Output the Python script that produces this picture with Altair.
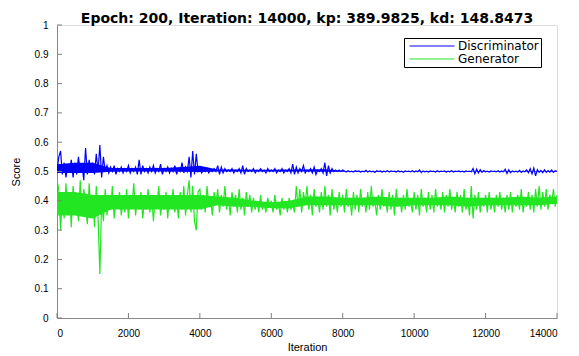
import altair as alt
import pandas as pd

# Discriminator score, sampled every 50 iterations (0 .. 14000)
disc = [
    0.50, 0.55, 0.57, 0.49, 0.53, 0.48, 0.52, 0.50, 0.54, 0.48, 0.53, 0.49, 0.55, 0.50, 0.52, 0.47, 0.58, 0.49, 0.54, 0.50, 0.53, 0.49, 0.56, 0.50, 0.59, 0.48, 0.55,
    0.50, 0.52, 0.495, 0.515, 0.50, 0.52, 0.49, 0.51, 0.50, 0.515, 0.495, 0.51, 0.50, 0.52, 0.495, 0.51, 0.50, 0.515, 0.49,
    0.54, 0.49, 0.52,
    0.50, 0.51, 0.495, 0.515, 0.50, 0.52, 0.495, 0.51, 0.50, 0.525, 0.49, 0.51, 0.50, 0.515, 0.495, 0.51, 0.50, 0.52, 0.49, 0.51, 0.50, 0.53, 0.495, 0.515, 0.50,
    0.55, 0.48, 0.57, 0.49, 0.56, 0.50,
    0.51, 0.495, 0.505, 0.50, 0.51, 0.495, 0.505, 0.50, 0.51, 0.50,
    0.52, 0.49, 0.515, 0.495, 0.51, 0.50, 0.505, 0.50, 0.51, 0.495,
    0.505, 0.50, 0.51, 0.495, 0.52, 0.49, 0.51, 0.50, 0.505, 0.50,
    0.51, 0.495, 0.505, 0.50, 0.51, 0.50, 0.505, 0.495, 0.51, 0.50,
    0.505, 0.50, 0.51, 0.495, 0.505, 0.50, 0.51, 0.495, 0.505, 0.50,
    0.51, 0.495, 0.525, 0.49, 0.515, 0.495, 0.51, 0.50, 0.52, 0.495,
    0.505, 0.50, 0.51, 0.495, 0.515, 0.49, 0.505, 0.50, 0.51, 0.495,
    0.53, 0.485, 0.52, 0.495, 0.51, 0.50, 0.505, 0.50, 0.505, 0.50, 0.505,
    0.502, 0.498, 0.503, 0.499, 0.501, 0.498, 0.503, 0.500, 0.502, 0.498,
    0.501, 0.499, 0.504, 0.498, 0.502, 0.499, 0.501, 0.497, 0.503, 0.500,
    0.502, 0.498, 0.501, 0.499, 0.503, 0.498, 0.502, 0.500, 0.501, 0.498,
    0.503, 0.499, 0.501, 0.497, 0.502, 0.500, 0.501, 0.499, 0.503, 0.498,
    0.502, 0.499, 0.505, 0.496, 0.502, 0.499, 0.501, 0.498, 0.502, 0.500,
    0.501, 0.498, 0.503, 0.499, 0.501, 0.500, 0.502, 0.498, 0.501, 0.499,
    0.503, 0.498, 0.501, 0.500, 0.502, 0.499, 0.501, 0.498, 0.502, 0.500,
    0.501, 0.499, 0.510, 0.492, 0.508, 0.495, 0.506, 0.497, 0.503, 0.499,
    0.501, 0.498, 0.502, 0.500, 0.501, 0.499, 0.503, 0.498, 0.502, 0.499,
    0.508, 0.493, 0.506, 0.496, 0.502, 0.499, 0.501, 0.498, 0.504, 0.497,
    0.502, 0.499, 0.505, 0.496, 0.510, 0.492, 0.512, 0.485, 0.506, 0.497,
    0.504, 0.496, 0.506, 0.497, 0.503, 0.498, 0.505, 0.497, 0.503, 0.500,
]

# Generator score, sampled every 50 iterations (0 .. 14000)
gen = [
    0.47, 0.44, 0.30, 0.42, 0.34, 0.46, 0.36, 0.43, 0.31, 0.45, 0.37, 0.41, 0.33, 0.47, 0.35, 0.44, 0.38, 0.32, 0.46, 0.36, 0.42, 0.31, 0.45, 0.34, 0.15, 0.40, 0.33,
    0.44, 0.35, 0.42, 0.37, 0.45, 0.34, 0.41, 0.38, 0.43, 0.35,
    0.40, 0.36, 0.44, 0.34, 0.42, 0.38, 0.46, 0.35, 0.41, 0.37,
    0.43, 0.34, 0.40, 0.37, 0.44, 0.36, 0.42, 0.33, 0.41, 0.38,
    0.45, 0.35, 0.40, 0.37, 0.43, 0.34, 0.42, 0.38, 0.44, 0.36,
    0.41, 0.34, 0.43, 0.37, 0.45, 0.35, 0.42,
    0.47, 0.36, 0.45, 0.33, 0.30, 0.43,
    0.44, 0.37, 0.42, 0.36, 0.45, 0.38, 0.41, 0.35, 0.43, 0.39,
    0.44, 0.36, 0.42, 0.38, 0.45, 0.37, 0.41, 0.35, 0.43, 0.38,
    0.42, 0.36, 0.44, 0.37, 0.41, 0.35, 0.43, 0.38, 0.42, 0.36,
    0.41, 0.37, 0.40, 0.36, 0.42, 0.37, 0.39, 0.36, 0.41, 0.38,
    0.40, 0.36, 0.42, 0.37, 0.39, 0.35, 0.41, 0.37, 0.40, 0.36,
    0.41, 0.37, 0.39, 0.36, 0.45, 0.38, 0.44, 0.36, 0.43, 0.39,
    0.45, 0.37, 0.42, 0.35, 0.44, 0.38, 0.41, 0.36, 0.43, 0.37,
    0.45, 0.38, 0.42, 0.35, 0.44, 0.37, 0.41, 0.36, 0.43, 0.38, 0.42,
    0.36, 0.44, 0.38, 0.41, 0.35, 0.43, 0.37, 0.42, 0.36, 0.44,
    0.38, 0.41, 0.36, 0.43, 0.37, 0.45, 0.38, 0.40, 0.35, 0.42,
    0.37, 0.44, 0.38, 0.41, 0.36, 0.43, 0.37, 0.42, 0.35, 0.44,
    0.38, 0.41, 0.36, 0.42, 0.37, 0.44, 0.38, 0.40, 0.36, 0.43,
    0.37, 0.42, 0.35, 0.44, 0.38, 0.41, 0.36, 0.43, 0.37, 0.42,
    0.36, 0.44, 0.38, 0.41, 0.37, 0.43, 0.36, 0.42, 0.38, 0.44,
    0.37, 0.41, 0.36, 0.43, 0.38, 0.42, 0.36, 0.44, 0.37, 0.41,
    0.35, 0.45, 0.34, 0.42, 0.37, 0.43, 0.36, 0.41, 0.38, 0.42,
    0.36, 0.43, 0.37, 0.41, 0.36, 0.42, 0.38, 0.43, 0.37, 0.41,
    0.36, 0.42, 0.37, 0.43, 0.36, 0.41, 0.38, 0.42, 0.37, 0.44,
    0.36, 0.41, 0.38, 0.43, 0.37, 0.42, 0.36, 0.44, 0.38, 0.45,
    0.37, 0.43, 0.38, 0.44, 0.37, 0.42, 0.39, 0.44, 0.38, 0.42,
]

# Dense core of each noisy band, read every 500 iterations (0 .. 14000)
band_step = 500
disc_lo = [0.495, 0.495, 0.495, 0.499, 0.500, 0.500, 0.500, 0.499, 0.498, 0.500, 0.500, 0.500, 0.500, 0.500, 0.500, 0.499, 0.4995,
           0.4995, 0.4995, 0.4995, 0.4995, 0.4995, 0.4995, 0.4995, 0.4995, 0.4995, 0.4995, 0.4995, 0.4995]
disc_hi = [0.525, 0.53, 0.53, 0.512, 0.512, 0.512, 0.512, 0.515, 0.52, 0.507, 0.507, 0.506, 0.506, 0.507, 0.507, 0.508, 0.502,
           0.501, 0.501, 0.501, 0.501, 0.501, 0.501, 0.501, 0.501, 0.501, 0.501, 0.501, 0.501]
gen_lo = [0.35, 0.35, 0.34, 0.37, 0.37, 0.37, 0.37, 0.37, 0.37, 0.385, 0.38, 0.38, 0.375, 0.375, 0.385, 0.385, 0.385,
          0.385, 0.385, 0.38, 0.385, 0.385, 0.385, 0.38, 0.385, 0.385, 0.385, 0.385, 0.39]
gen_hi = [0.43, 0.43, 0.42, 0.42, 0.42, 0.42, 0.42, 0.42, 0.42, 0.415, 0.41, 0.40, 0.395, 0.40, 0.415, 0.415, 0.41,
          0.41, 0.415, 0.41, 0.41, 0.41, 0.415, 0.41, 0.41, 0.41, 0.415, 0.41, 0.415]

step = 50
series_names = ["Discriminator", "Generator"]
series_colors = ["#0000ff", "#22e622"]
x_ticks = [0, 2000, 4000, 6000, 8000, 10000, 12000, 14000]
y_ticks = [0, 0.1, 0.2, 0.3, 0.4, 0.5, 0.6, 0.7, 0.8, 0.9, 1]
title_text = "Epoch: 200, Iteration: 14000, kp: 389.9825, kd: 148.8473"

rows = []
for name, vals in zip(series_names, [disc, gen]):
    for i, v in enumerate(vals):
        rows.append({"Iteration": i * step, "Score": v, "series": name})
df = pd.DataFrame(rows)

brows = []
for name, lo, hi in zip(series_names, [disc_lo, gen_lo], [disc_hi, gen_hi]):
    for i, (a, b) in enumerate(zip(lo, hi)):
        brows.append({"Iteration": i * band_step, "lo": a, "hi": b, "series": name})
bdf = pd.DataFrame(brows)

FONT = "DejaVu Sans"
GRAY = "#7f7f7f"

xscale = alt.Scale(domain=[0, 14000], nice=False)
yscale = alt.Scale(domain=[0, 1], nice=False)

xaxis = alt.Axis(values=x_ticks, title="Iteration", format="d", ticks=False, tickSize=0,
                 grid=False, labelPadding=10, titlePadding=3, titleFontWeight="normal",
                 labelOverlap=False)
yaxis = alt.Axis(values=y_ticks, title="Score", format="~g", ticks=False, tickSize=0,
                 grid=False, labelPadding=9, titlePadding=13, titleFontWeight="normal",
                 labelOverlap=False)

bands = alt.Chart(bdf).mark_area(opacity=1, clip=True).encode(
    x=alt.X("Iteration:Q", scale=xscale, axis=xaxis),
    y=alt.Y("lo:Q", scale=yscale, axis=yaxis),
    y2="hi:Q",
    color=alt.Color("series:N", scale=alt.Scale(domain=series_names, range=series_colors), legend=None),
    detail="series:N",
)

lines = alt.Chart(df).mark_line(strokeWidth=1.2, clip=True).encode(
    x=alt.X("Iteration:Q", scale=xscale, axis=xaxis),
    y=alt.Y("Score:Q", scale=yscale, axis=yaxis),
    color=alt.Color("series:N", scale=alt.Scale(domain=series_names, range=series_colors),
                    legend=alt.Legend(title=None, orient="none", legendX=347, legendY=13,
                                      symbolType="M-4.5,0H4.5", symbolSize=100, symbolStrokeWidth=1.2,
                                      symbolOffset=20, labelOffset=20, padding=2, rowPadding=1,
                                      labelFontSize=12, labelFont=FONT, labelColor="#000000",
                                      strokeColor="#000000", fillColor="#ffffff")),
    detail="series:N",
)

ytick_df = pd.DataFrame({"v": y_ticks})
xtick_df = pd.DataFrame({"v": x_ticks})

yt = alt.Chart(ytick_df).mark_rule(color=GRAY, strokeWidth=1).encode(
    y=alt.Y("v:Q", scale=yscale, axis=yaxis), x=alt.value(0), x2=alt.value(5))
xt = alt.Chart(xtick_df).mark_rule(color=GRAY, strokeWidth=1).encode(
    x=alt.X("v:Q", scale=xscale, axis=xaxis), y=alt.value(293), y2=alt.value(288))

chart = alt.layer(bands, lines, yt, xt).resolve_scale(color="independent").properties(
    width=500, height=293,
    title=alt.Title(title_text, font=FONT, fontSize=14, fontWeight="bold", color="#000000",
                    offset=0, dy=6),
    autosize=alt.AutoSizeParams(type="none"),
    padding={"left": 49, "top": 17, "right": 14, "bottom": 40},
).configure_view(stroke=None).configure_axis(
    domainColor=GRAY, labelColor="#4d4d4d", labelFont=FONT, labelFontSize=12,
    titleFont=FONT, titleFontSize=13, titleColor="#262626", titleFontWeight="normal",
).configure(background="#ffffff")

chart.save("out.html", embed_options={"renderer": "svg", "actions": False})
